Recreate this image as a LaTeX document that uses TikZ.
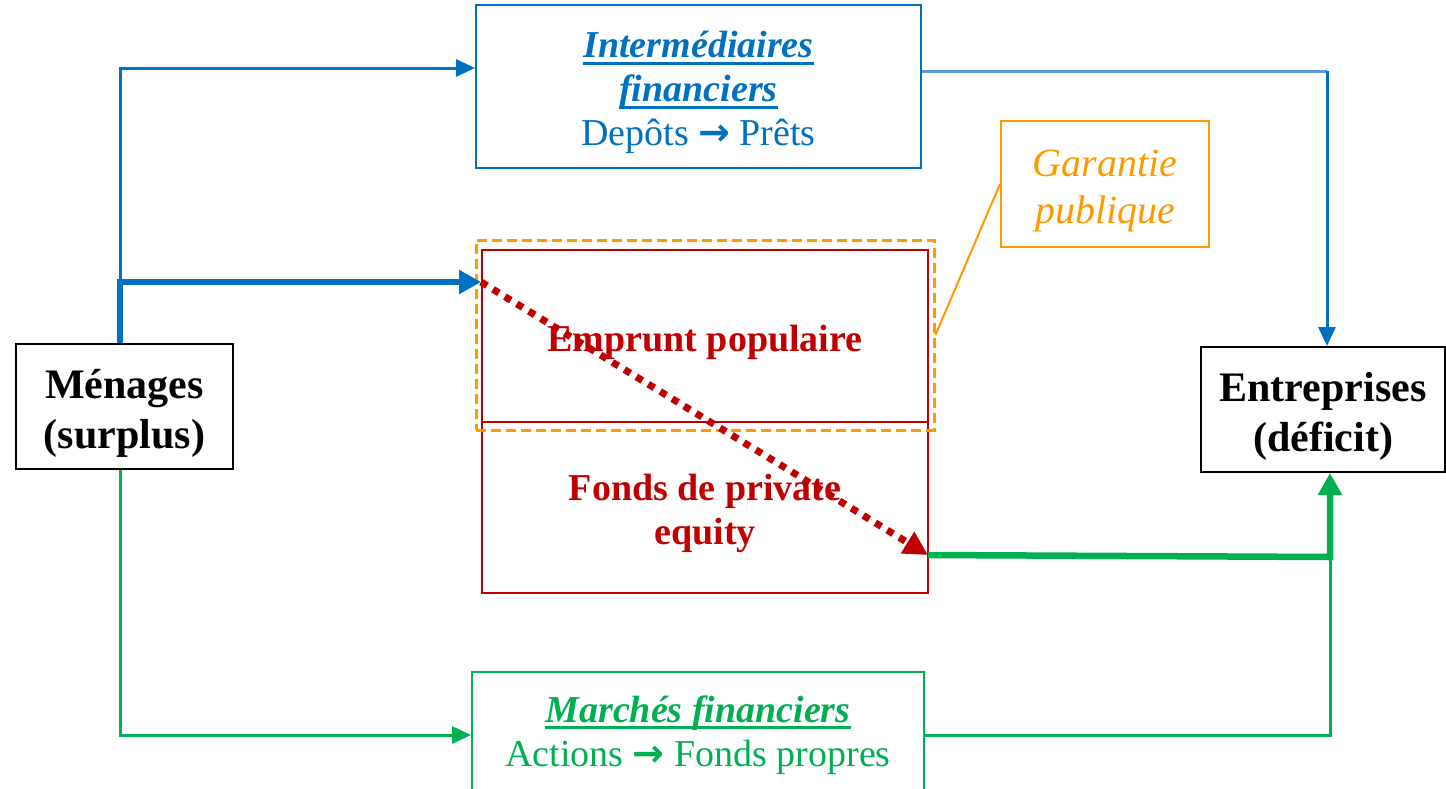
\documentclass[tikz,border=0pt]{standalone}
\usepackage{fontspec}
\setmainfont{Liberation Serif}
\newfontfamily\arrowfont{DejaVu Sans}
\usetikzlibrary{arrows.meta}
\definecolor{cblue}{HTML}{0070C0}
\definecolor{lblue}{HTML}{5B9BD5}
\definecolor{cred}{HTML}{C00000}
\definecolor{cgreen}{HTML}{00B050}
\definecolor{corange}{HTML}{FF9900}
\newcommand{\undbar}[1]{\setbox0\hbox{#1}\rlap{\vrule height -4pt depth 7pt width \wd0}\box0}
\newcommand{\toarrow}{{\arrowfont\bfseries\fontsize{38}{38}\selectfont →}}
\newcommand{\lift}{\rule{0pt}{1.02em}}

\begin{document}
\begin{tikzpicture}[x=1pt, y=-1pt,
    box/.style={draw, line width=2pt, inner sep=0pt, align=center},
    agent/.style={box, black, font=\fontsize{42}{50}\selectfont\bfseries},
    mid/.style={box, font=\fontsize{38}{44}\selectfont},
    thin/.style={line width=3pt, -{Triangle[length=19pt,width=17pt]}},
    thick/.style={line width=6.5pt, -{Triangle[length=22pt,width=23pt]}}]
  \useasboundingbox (0,0) rectangle (1446,788);
  \clip (0,0) rectangle (1446,788);
  % agents
  \node[agent, minimum width=217, minimum height=125] (menages) at (124.5,406.5) {\lift Ménages\\(surplus)};
  \node[agent, minimum width=244, minimum height=125] (entreprises) at (1323,409.5) {\lift Entreprises\\(déficit)};
  % channels
  \node[mid, cblue, minimum width=445, minimum height=163] (inter) at (698.5,86.5)
    {\lift\bfseries\itshape\undbar{Intermédiaires}\\\bfseries\itshape\undbar{financiers}\\Depôts \toarrow{} Prêts};
  \node[mid, cred, minimum width=446, minimum height=172, font=\fontsize{38}{44}\selectfont\bfseries] (emprunt) at (705,336) {\lift Emprunt populaire};
  \node[mid, cred, minimum width=446, minimum height=171, font=\fontsize{38}{44}\selectfont\bfseries] (fonds) at (705,507.5) {\lift Fonds de private\\equity};
  \node[draw=corange, line width=3pt, dash pattern=on 10pt off 5pt, inner sep=0pt, minimum width=458, minimum height=190] (garbox) at (705,335) {};
  \node[mid, corange, minimum width=208, minimum height=126, font=\fontsize{40}{47}\selectfont\itshape] (garantie) at (1105,184) {\lift Garantie\\publique};
  \node[mid, cgreen, minimum width=452, minimum height=126] (marches) at (698,735)
    {\bfseries\itshape\undbar{Marchés financiers}\\Actions \toarrow{} Fonds propres};
  % corners
  \coordinate (tl) at (120,68);
  \coordinate (split) at (120,282);
  \coordinate (tr) at (1327,71);
  \coordinate (dbot) at (928,555);
  \coordinate (gcorner) at (1330,557);
  % flows
  \draw[cblue, thin] (menages.north -| tl) -- (tl) -- (inter.west |- tl);
  \draw[cblue, thick] (menages.north -| split) -- (split) -- (emprunt.west |- split);
  \draw[lblue, line width=3pt] (inter.east |- tr) -- (tr);
  \draw[cblue, thin] (tr) -- (entreprises.north -| tr);
  \draw[corange, line width=2pt] (garbox.east) -- (garantie.west);
  \draw[cred, line width=7pt, dash pattern=on 7pt off 7pt, -{Triangle[length=24pt,width=24pt]}] (emprunt.west |- split) -- (dbot);
  \draw[cgreen, thin] (menages.south -| tl) -- (marches.west -| tl) -- (marches.west);
  \draw[cgreen, line width=3pt] (marches.east) -- (marches.east -| gcorner) -- (gcorner);
  \draw[cgreen, thick] (dbot) -- (gcorner) -- (entreprises.south -| gcorner);
\end{tikzpicture}
\end{document}
